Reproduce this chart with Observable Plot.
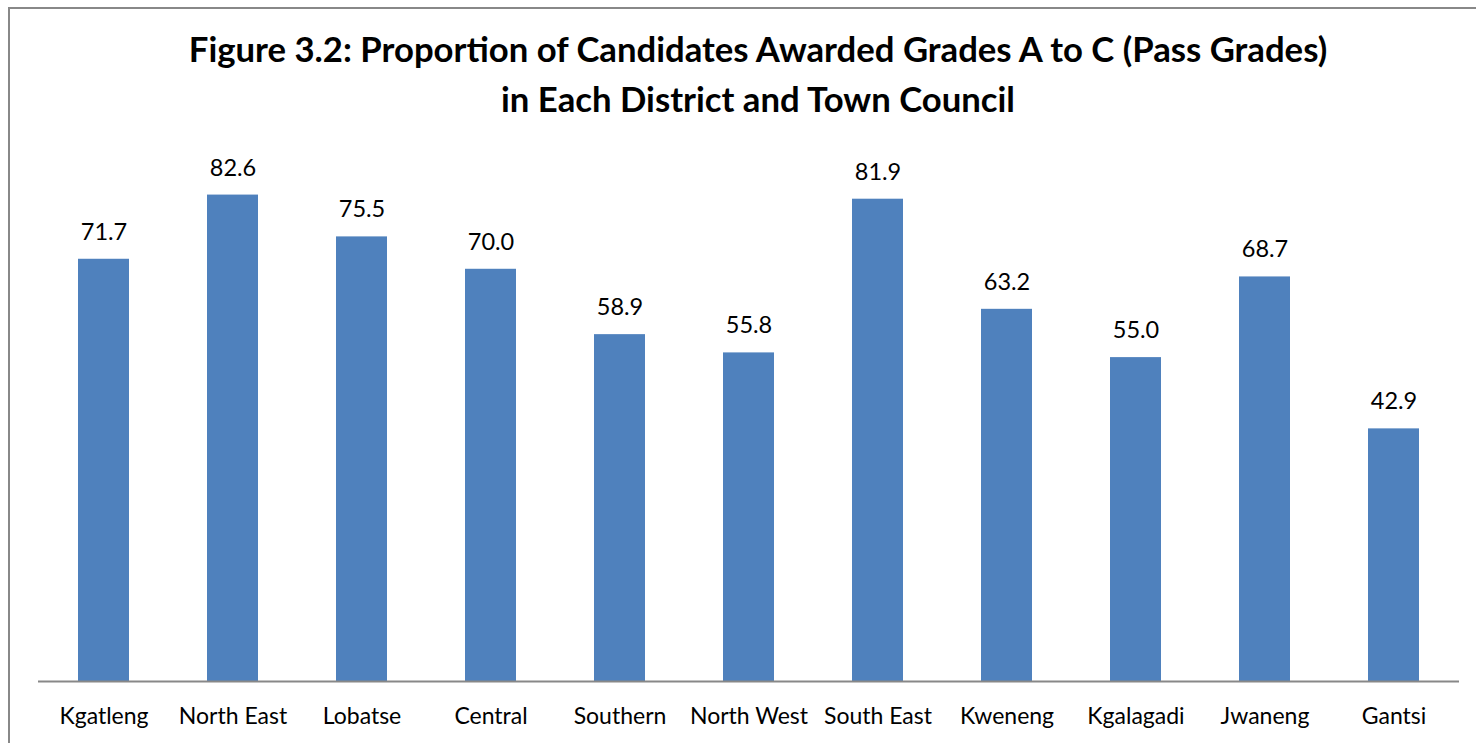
<!DOCTYPE html>
<html>
<head>
<meta charset="utf-8">
<script src="https://cdn.jsdelivr.net/npm/d3@7"></script>
<script src="https://cdn.jsdelivr.net/npm/@observablehq/plot@0.6"></script>
<style>
  html, body { margin: 0; padding: 0; background: #fff; overflow: hidden; }
  #wrap { position: relative; width: 1476px; height: 743px; }
  #frame { position: absolute; left: 8px; top: 7px; width: 1600px; height: 800px; border-left: 2px solid #888; border-top: 2px solid #888; box-sizing: border-box; }
  #title { position: absolute; left: 20px; top: 24px; width: 1476px; text-align: center; font-family: Lato, "Open Sans", sans-serif; font-weight: bold; font-size: 34.7px; line-height: 50px; color: #000; }
  #chart { position: absolute; left: 0; top: 0; }
</style>
</head>
<body>
<div id="wrap">
  <div id="frame"></div>
  <div id="title">Figure 3.2: Proportion of Candidates Awarded Grades A to C (Pass Grades)<br>in Each District and Town Council</div>
  <div id="chart"></div>
</div>
<script>
const districts = ["Kgatleng", "North East", "Lobatse", "Central", "Southern", "North West", "South East", "Kweneng", "Kgalagadi", "Jwaneng", "Gantsi"];
const passRates = [71.7, 82.6, 75.5, 70.0, 58.9, 55.8, 81.9, 63.2, 55.0, 68.7, 42.9];

const data = districts.map((d, i) => ({district: d, value: passRates[i]}));

const chart = Plot.plot({
  width: 1476,
  height: 743,
  marginLeft: 38,
  marginRight: 17,
  marginTop: 151,
  marginBottom: 62,
  style: {fontFamily: "Lato, 'Open Sans', sans-serif", fontSize: "23px", color: "#000", background: "transparent"},
  x: {domain: districts, paddingInner: 0.605, paddingOuter: 0.3025, label: null},
  y: {domain: [0, 90], axis: null},
  marks: [
    Plot.barY(data, {x: "district", y: "value", fill: "#4F81BD"}),
    Plot.text(data, {x: "district", y: "value", text: d => d.value.toFixed(1), dy: -27, fontSize: 23.5, fill: "#000"}),
    Plot.ruleY([0], {stroke: "#888", strokeWidth: 2}),
    Plot.axisX({tickSize: 0, tickPadding: 26, fontSize: 23, label: null, fill: "#000"})
  ]
});
document.getElementById("chart").appendChild(chart);
</script>
</body>
</html>
